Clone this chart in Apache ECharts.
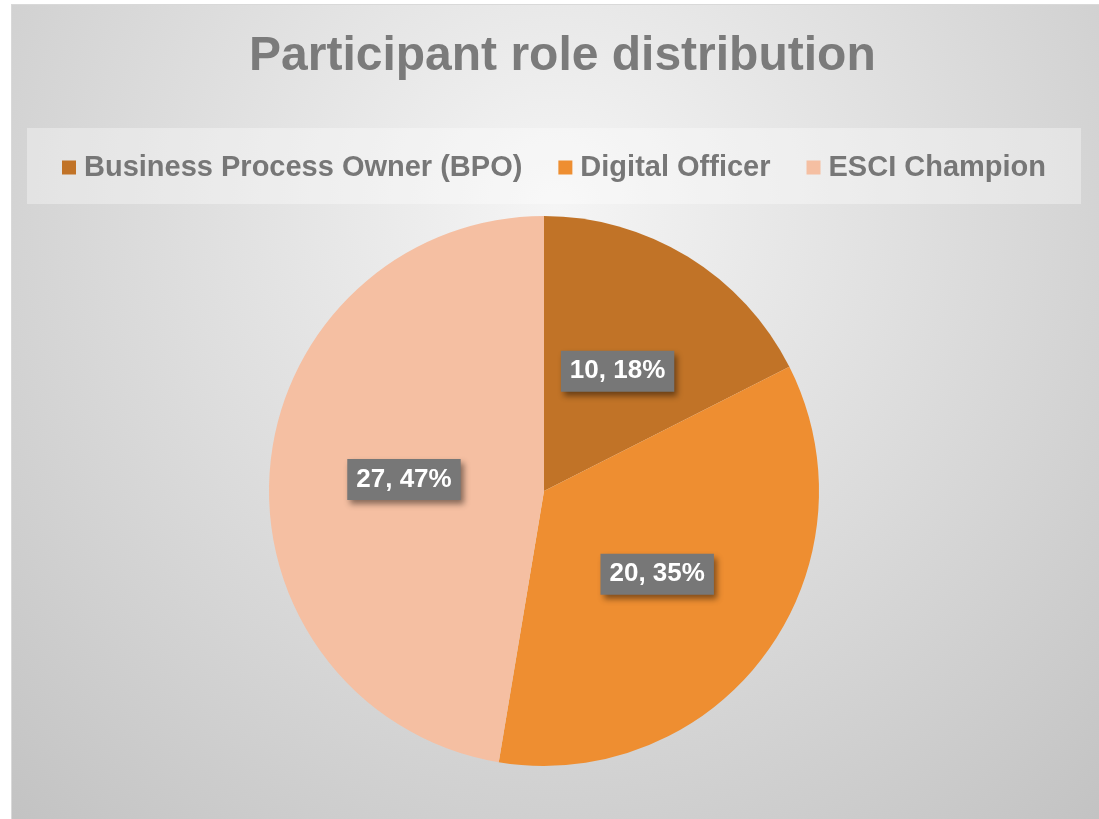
<!DOCTYPE html>
<html>
<head>
<meta charset="utf-8">
<title>Participant role distribution</title>
<script src="https://cdn.jsdelivr.net/npm/echarts@6/dist/echarts.min.js"></script>
<style>
  html, body { margin: 0; padding: 0; background: #ffffff; }
  #roleChart {
    position: absolute;
    left: 11px;
    top: 4px;
    width: 1088px;
    height: 815px;
    box-sizing: border-box;
    border-left: 1px solid #d9d9d9;
    border-top: 1px solid #d9d9d9;
  }
</style>
</head>
<body>
<div id="roleChart"></div>
<script>
// data
const roles = ['Business Process Owner (BPO)', 'Digital Officer', 'ESCI Champion'];
const counts = [10, 20, 27];
const sliceColors = ['#c17327', '#ee8e31', '#f5bfa2'];

const chart = echarts.init(document.getElementById('roleChart'));

const option = {
  backgroundColor: {
    type: 'radial',
    x: 0.5,
    y: 0.25,
    r: 1.0,
    colorStops: [
      { offset: 0, color: '#f5f5f5' },
      { offset: 1, color: '#c3c3c3' }
    ]
  },
  title: {
    text: 'Participant role distribution',
    left: 232,
    top: 23,
    textStyle: {
      fontFamily: 'Liberation Sans, Arial, sans-serif',
      fontSize: 48,
      fontWeight: 'bold',
      color: '#7b7b7b'
    }
  },
  // the pale box behind the legend
  graphic: [{
    type: 'rect',
    left: 15,
    top: 123,
    shape: { width: 1054, height: 76 },
    style: { fill: 'rgba(255,255,255,0.35)' },
    z: 0
  }],
  legend: {
    left: 45,
    top: 143,
    itemWidth: 14,
    itemHeight: 14,
    itemGap: 36,
    icon: 'rect',
    data: roles,
    formatter: '{t|{name}}',
    textStyle: {
      fontFamily: 'Liberation Sans, Arial, sans-serif',
      fontSize: 29,
      fontWeight: 'bold',
      color: '#777777',
      rich: {
        t: {
          fontFamily: 'Liberation Sans, Arial, sans-serif',
          fontSize: 29,
          fontWeight: 'bold',
          color: '#777777',
          padding: [0, 0, 0, 3]
        }
      }
    }
  },
  series: [{
    name: 'Role',
    type: 'pie',
    center: [532, 486],
    radius: 275,
    startAngle: 90,
    clockwise: true,
    percentPrecision: 0,
    silent: true,
    itemStyle: { borderWidth: 0 },
    label: {
      show: true,
      position: 'inside',
      formatter: '{c}, {d}%',
      fontFamily: 'Liberation Sans, Arial, sans-serif',
      fontSize: 26,
      fontWeight: 'bold',
      lineHeight: 27,
      color: '#ffffff',
      backgroundColor: '#777777',
      padding: [7, 9],
      shadowColor: 'rgba(0,0,0,0.45)',
      shadowBlur: 6,
      shadowOffsetX: 3,
      shadowOffsetY: 4
    },
    labelLine: { show: false },
    data: roles.map((name, i) => ({
      name: name,
      value: counts[i],
      itemStyle: { color: sliceColors[i] }
    }))
  }]
};

chart.setOption(option);
</script>
</body>
</html>
